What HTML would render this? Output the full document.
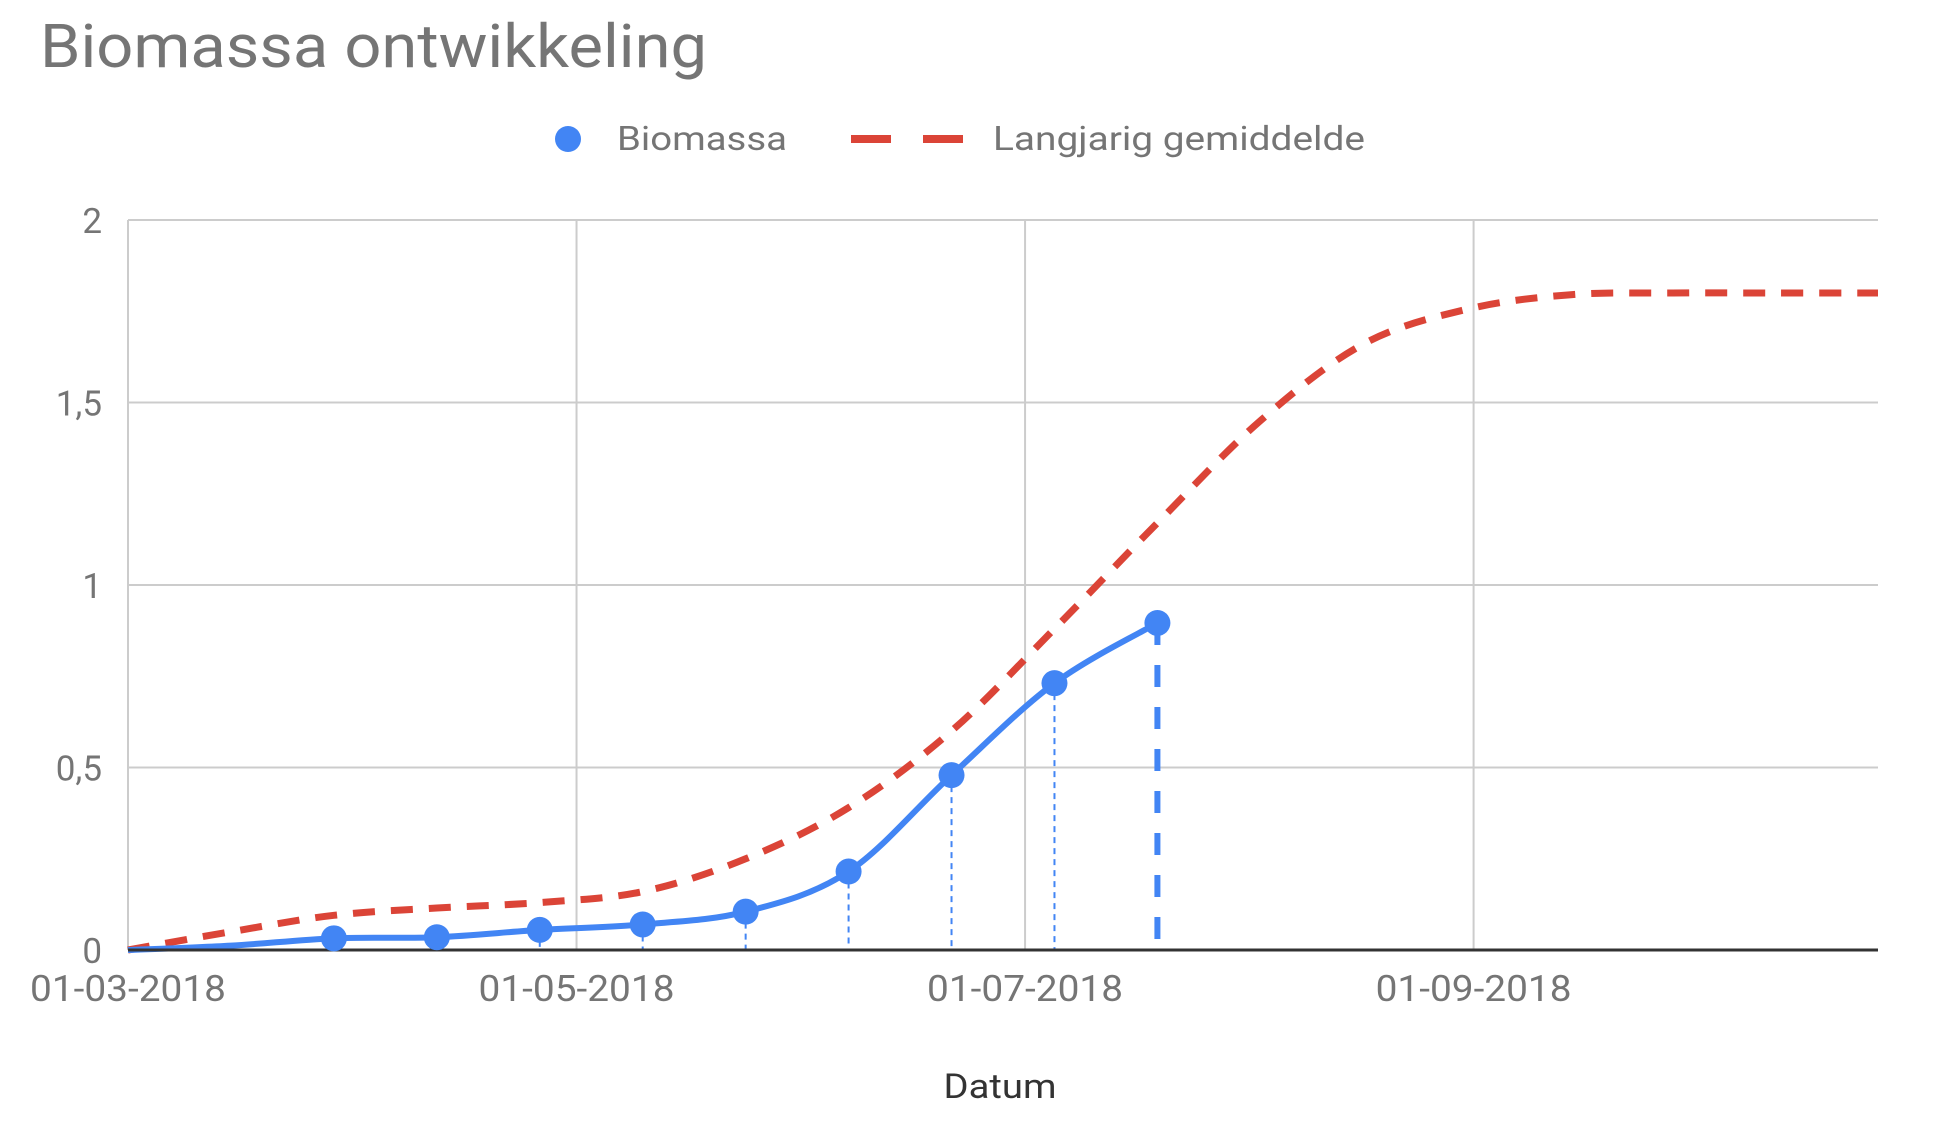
<!DOCTYPE html>
<html><head><meta charset="utf-8"><style>
html,body{margin:0;padding:0;background:#fff;}
svg{display:block;font-family:"Roboto","Liberation Sans",sans-serif;}
</style></head><body>
<svg id="chart" width="1946" height="1142" viewBox="0 0 1946 1142">
<text x="40" y="67" font-size="60" fill="#757575" textLength="667" lengthAdjust="spacingAndGlyphs">Biomassa ontwikkeling</text>
<g>
 <g>
  <circle cx="568" cy="139" r="13" fill="#4285f4"/>
  <text x="617" y="150" font-size="33" fill="#757575" textLength="170" lengthAdjust="spacingAndGlyphs">Biomassa</text>
 </g>
 <g>
  <line x1="851" y1="139" x2="963" y2="139" stroke="#db4437" stroke-width="8" stroke-dasharray="40,32"/>
  <text x="993" y="150" font-size="33" fill="#757575" textLength="372" lengthAdjust="spacingAndGlyphs">Langjarig gemiddelde</text>
 </g>
</g>
<g id="grid"></g>
<g id="series"></g>
<text x="1000" y="1098" font-size="34" fill="#333" text-anchor="middle" textLength="113" lengthAdjust="spacingAndGlyphs">Datum</text>
</svg>
<script>
// data (day offsets from 01-03-2018)
const bioDays = [0,14,28,42,56,70,84,98,112,126,140];
const bioValues = [0,0.012,0.032,0.035,0.055,0.07,0.105,0.215,0.479,0.731,0.896];
const avgDays = [0,14,28,42,56,70,84,98,112,126,140,154,168,182,196,210,224,238];
const avgValues = [0,0.05,0.095,0.115,0.13,0.16,0.25,0.39,0.60,0.88,1.17,1.45,1.66,1.755,1.795,1.80,1.80,1.80];
const yTicks = [0,0.5,1,1.5,2];
const yTickLabels = ["0","0,5","1","1,5","2"];
const xTickDays = [0,61,122,183];
const xTickLabels = ["01-03-2018","01-05-2018","01-07-2018","01-09-2018"];

const L=128,R=1878,T=220,B=950,DMAX=238,VMAX=2;
const xs=d=>L+(d/DMAX)*(R-L);
const ys=v=>B-(v/VMAX)*(B-T);
const NS="http://www.w3.org/2000/svg";
function mk(tag,parent,attrs){const e=document.createElementNS(NS,tag);for(const k in attrs)e.setAttribute(k,attrs[k]);parent.appendChild(e);return e;}
const grid=document.getElementById('grid'),ser=document.getElementById('series');

yTicks.forEach((v,i)=>{
  if(v>0){const g=mk('line',grid,{x1:L,x2:R,y1:ys(v),y2:ys(v),stroke:'#cccccc','stroke-width':2});
  
  }
  const t=mk('text',grid,{x:102,y:ys(v)+13,'font-size':35,fill:'#757575','text-anchor':'end'});
  t.textContent=yTickLabels[i];
  
  
});
xTickDays.forEach((d,i)=>{
  const g=mk('line',grid,{x1:xs(d),x2:xs(d),y1:T,y2:B,stroke:'#cccccc','stroke-width':2});
  
  
  const t=mk('text',grid,{x:xs(d),y:1001,'font-size':36,fill:'#757575','text-anchor':'middle',textLength:196,lengthAdjust:'spacingAndGlyphs'});
  t.textContent=xTickLabels[i];
  
  
});

function smooth(days,vals){
  const p=days.map((d,i)=>[xs(d),ys(vals[i])]);
  let s=`M${p[0][0]},${p[0][1]}`;
  for(let i=0;i<p.length-1;i++){
    const p0=p[Math.max(0,i-1)],p1=p[i],p2=p[i+1],p3=p[Math.min(p.length-1,i+2)];
    const c1=[p1[0]+(p2[0]-p0[0])/6,p1[1]+(p2[1]-p0[1])/6];
    const c2=[p2[0]-(p3[0]-p1[0])/6,p2[1]-(p3[1]-p1[1])/6];
    s+=` C${c1[0]},${c1[1]} ${c2[0]},${c2[1]} ${p2[0]},${p2[1]}`;
  }
  return s;
}
bioDays.forEach((d,i)=>{
  if(i===0)return;
  const last=i===bioDays.length-1;
  const l=mk('line',ser,{x1:xs(d),x2:xs(d),y1:ys(bioValues[i]),y2:B,stroke:'#4285f4','stroke-width':last?6:2,'stroke-dasharray':last?'22,20':'6,5'});
  
  
});
const red=mk('path',ser,{d:smooth(avgDays,avgValues),fill:'none',stroke:'#db4437','stroke-width':7,'stroke-dasharray':'22,16'});


const blue=mk('path',ser,{d:smooth(bioDays,bioValues),fill:'none',stroke:'#4285f4','stroke-width':6});


const axis=mk('line',ser,{x1:L,x2:R,y1:B,y2:B,stroke:'#333','stroke-width':3});


bioDays.forEach((d,i)=>{
  if(bioValues[i]<0.02)return;
  const c=mk('circle',ser,{cx:xs(d),cy:ys(bioValues[i]),r:13,fill:'#4285f4'});
  
  
});
</script>
</body></html>
